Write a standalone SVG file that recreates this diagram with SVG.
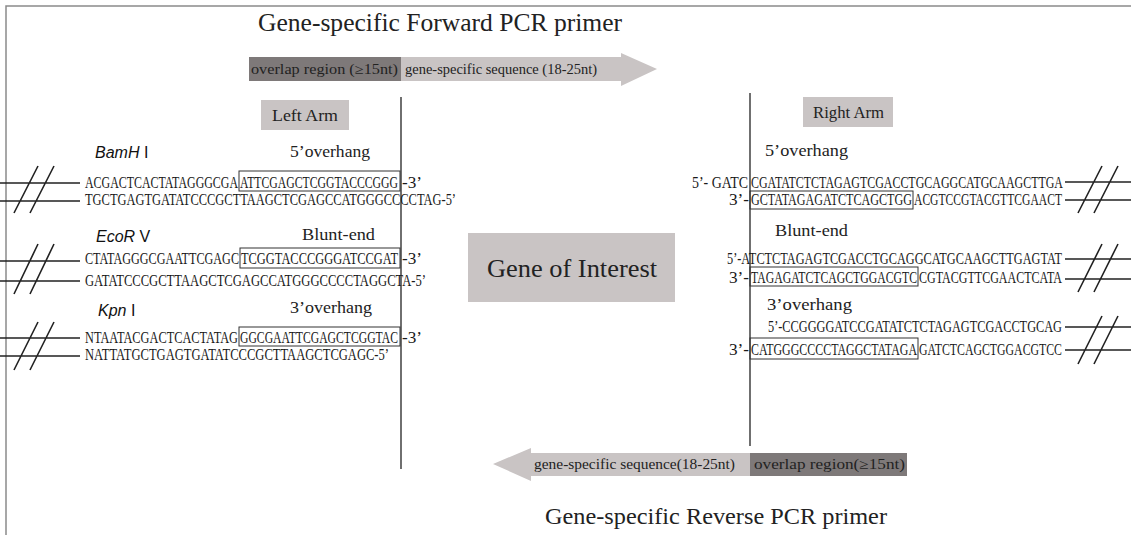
<svg xmlns="http://www.w3.org/2000/svg" width="1131" height="535" viewBox="0 0 1131 535">
<style>
.t{font-family:"Liberation Serif",serif;fill:#222;}
.seq{font-family:"Liberation Serif",serif;font-size:17px;fill:#1a1a1a;}
.lbl{font-family:"Liberation Serif",serif;font-size:17px;fill:#222;}
.enz{font-family:"Liberation Sans",Arial,sans-serif;font-size:16px;font-style:italic;fill:#111;}
.box{fill:none;stroke:#333;stroke-width:1;}
.ln{stroke:#222;stroke-width:1.3;fill:none;}
.brk{stroke:#222;stroke-width:1.6;fill:none;}
.gray{fill:#c9c4c4;}
.dark{fill:#7e7979;}
.small{font-family:"Liberation Serif",serif;font-size:14px;fill:#222;}
</style>
<rect width="1131" height="535" fill="#fff"/>
<path d="M6 535 V6 H1131" stroke="#8a8a8a" stroke-width="1.5" fill="none"/>

<g id="forward-primer">
<text class="t" x="258" y="31" font-size="25" textLength="364" lengthAdjust="spacingAndGlyphs">Gene-specific Forward PCR primer</text>
<polygon class="gray" points="401,57 621,57 621,53 657,69 621,86 621,81 401,81"/>
<rect class="dark" x="249" y="57" width="152" height="24"/>
<text class="small" x="251" y="74" textLength="147" lengthAdjust="spacingAndGlyphs">overlap region (≥15nt)</text>
<text class="small" x="405" y="74" textLength="192" lengthAdjust="spacingAndGlyphs">gene-specific sequence (18-25nt)</text>
</g>

<g id="reverse-primer">
<polygon class="gray" points="750,453 531,453 531,448 493,464 531,481 531,476 750,476"/>
<rect class="dark" x="750" y="453" width="157" height="23"/>
<text class="small" x="534" y="469" textLength="201" lengthAdjust="spacingAndGlyphs">gene-specific sequence(18-25nt)</text>
<text class="small" x="754" y="469" textLength="151" lengthAdjust="spacingAndGlyphs">overlap region(≥15nt)</text>
<text class="t" x="545" y="524" font-size="24" textLength="342" lengthAdjust="spacingAndGlyphs">Gene-specific Reverse PCR primer</text>
</g>

<g id="gene-of-interest">
<rect class="gray" x="468" y="233" width="207" height="69"/>
<text class="t" x="487" y="277" font-size="25" textLength="170" lengthAdjust="spacingAndGlyphs" fill="#333">Gene of Interest</text>
</g>

<g id="connectors">
<line class="ln" x1="401" y1="97" x2="401" y2="469"/>
<line class="ln" x1="750" y1="93" x2="750" y2="446"/>
</g>

<g id="left-arm">
<rect class="gray" x="261" y="100" width="88" height="30"/>
<text class="lbl" x="272" y="121" textLength="66" lengthAdjust="spacingAndGlyphs" fill="#333">Left Arm</text>

<text class="enz" x="95" y="158">BamH<tspan font-style="normal"> I</tspan></text>
<text class="lbl" x="290" y="157" textLength="80" lengthAdjust="spacingAndGlyphs">5’overhang</text>
<text class="seq" x="85" y="188" textLength="153" lengthAdjust="spacingAndGlyphs">ACGACTCACTATAGGGCGA</text>
<text class="seq" x="240" y="188" textLength="158" lengthAdjust="spacingAndGlyphs">ATTCGAGCTCGGTACCCGGG</text>
<text class="seq" x="402" y="188" textLength="20" lengthAdjust="spacingAndGlyphs">-3’</text>
<text class="seq" x="85" y="205" textLength="371" lengthAdjust="spacingAndGlyphs">TGCTGAGTGATATCCCGCTTAAGCTCGAGCCATGGGCCCCTAG-5’</text>
<rect class="box" x="239" y="171" width="161" height="20"/>

<text class="enz" x="96" y="242">EcoR<tspan font-style="normal"> V</tspan></text>
<text class="lbl" x="302" y="240" textLength="73" lengthAdjust="spacingAndGlyphs">Blunt-end</text>
<text class="seq" x="85" y="264" textLength="154" lengthAdjust="spacingAndGlyphs">CTATAGGGCGAATTCGAGC</text>
<text class="seq" x="241" y="264" textLength="157" lengthAdjust="spacingAndGlyphs">TCGGTACCCGGGATCCGAT</text>
<text class="seq" x="402" y="264" textLength="20" lengthAdjust="spacingAndGlyphs">-3’</text>
<text class="seq" x="85" y="286" textLength="341" lengthAdjust="spacingAndGlyphs">GATATCCCGCTTAAGCTCGAGCCATGGGCCCCTAGGCTA-5’</text>
<rect class="box" x="240" y="248" width="160" height="20"/>

<text class="enz" x="98" y="316">Kpn<tspan font-style="normal"> I</tspan></text>
<text class="lbl" x="290" y="313" textLength="82" lengthAdjust="spacingAndGlyphs">3’overhang</text>
<text class="seq" x="85" y="343" textLength="153" lengthAdjust="spacingAndGlyphs">NTAATACGACTCACTATAG</text>
<text class="seq" x="240" y="343" textLength="158" lengthAdjust="spacingAndGlyphs">GGCGAATTCGAGCTCGGTAC</text>
<text class="seq" x="402" y="343" textLength="20" lengthAdjust="spacingAndGlyphs">-3’</text>
<text class="seq" x="85" y="360" textLength="304" lengthAdjust="spacingAndGlyphs">NATTATGCTGAGTGATATCCCGCTTAAGCTCGAGC-5’</text>
<rect class="box" x="239" y="327" width="161" height="19"/>

<path class="brk" d="M0 183 H80 M0 201 H80 M14 213 L38 166 M30 213 L54 166"/>
<path class="brk" d="M0 261 H80 M0 281 H80 M14 294 L38 244 M30 294 L54 244"/>
<path class="brk" d="M0 338 H80 M0 356 H80 M14 370 L38 322 M30 370 L54 322"/>
</g>

<g id="right-arm">
<rect class="gray" x="803" y="97" width="90" height="30"/>
<text class="lbl" x="813" y="118" textLength="71" lengthAdjust="spacingAndGlyphs" fill="#333">Right Arm</text>

<text class="lbl" x="765" y="156" textLength="83" lengthAdjust="spacingAndGlyphs">5’overhang</text>
<text class="seq" x="692" y="188" textLength="56" lengthAdjust="spacingAndGlyphs">5’- GATC</text>
<text class="seq" x="751" y="188" textLength="312" lengthAdjust="spacingAndGlyphs">CGATATCTCTAGAGTCGACCTGCAGGCATGCAAGCTTGA</text>
<text class="seq" x="729" y="205" textLength="20" lengthAdjust="spacingAndGlyphs">3’-</text>
<text class="seq" x="751" y="205" textLength="161" lengthAdjust="spacingAndGlyphs">GCTATAGAGATCTCAGCTGG</text>
<text class="seq" x="914" y="205" textLength="148" lengthAdjust="spacingAndGlyphs">ACGTCCGTACGTTCGAACT</text>
<rect class="box" x="750" y="191" width="163" height="18"/>

<text class="lbl" x="775" y="236" textLength="73" lengthAdjust="spacingAndGlyphs">Blunt-end</text>
<text class="seq" x="727" y="264" textLength="335" lengthAdjust="spacingAndGlyphs">5’-ATCTCTAGAGTCGACCTGCAGGCATGCAAGCTTGAGTAT</text>
<text class="seq" x="729" y="283" textLength="20" lengthAdjust="spacingAndGlyphs">3’-</text>
<text class="seq" x="751" y="283" textLength="166" lengthAdjust="spacingAndGlyphs">TAGAGATCTCAGCTGGACGTC</text>
<text class="seq" x="919" y="283" textLength="143" lengthAdjust="spacingAndGlyphs">CGTACGTTCGAACTCATA</text>
<rect class="box" x="750" y="267" width="168" height="19"/>

<text class="lbl" x="767" y="310" textLength="85" lengthAdjust="spacingAndGlyphs">3’overhang</text>
<text class="seq" x="768" y="332" textLength="294" lengthAdjust="spacingAndGlyphs">5’-CCGGGGATCCGATATCTCTAGAGTCGACCTGCAG</text>
<text class="seq" x="729" y="355" textLength="20" lengthAdjust="spacingAndGlyphs">3’-</text>
<text class="seq" x="751" y="355" textLength="166" lengthAdjust="spacingAndGlyphs">CATGGGCCCCTAGGCTATAGA</text>
<text class="seq" x="919" y="355" textLength="143" lengthAdjust="spacingAndGlyphs">GATCTCAGCTGGACGTCC</text>
<rect class="box" x="750" y="338" width="168" height="21"/>

<path class="brk" d="M1065 182 H1131 M1065 200 H1131 M1078 213 L1102 166 M1094 213 L1118 166"/>
<path class="brk" d="M1065 259 H1131 M1065 279 H1131 M1078 292 L1102 244 M1094 292 L1118 244"/>
<path class="brk" d="M1065 327 H1131 M1065 350 H1131 M1078 364 L1102 316 M1094 364 L1118 316"/>
</g>
</svg>
